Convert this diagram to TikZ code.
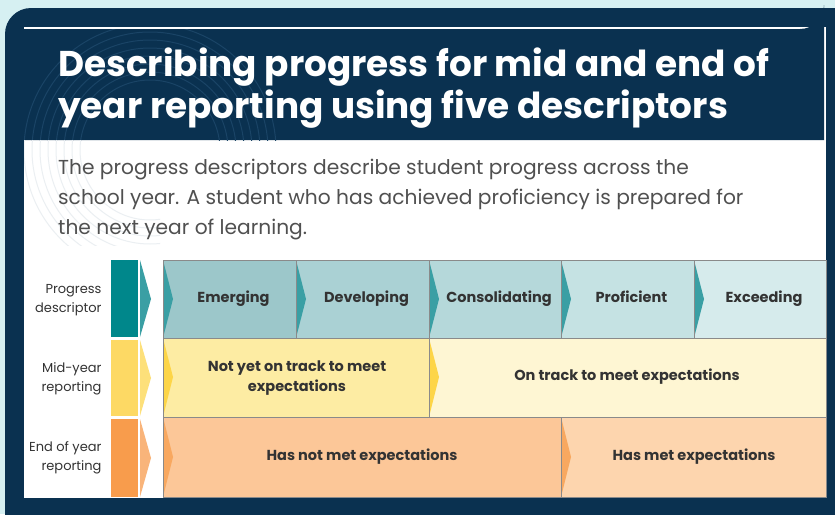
\documentclass[tikz,border=0pt]{standalone}
\usepackage{fontspec}
\setmainfont{Poppins}
\definecolor{bgaqua}{HTML}{D6F0F2}
\definecolor{navy}{HTML}{0A3150}
\definecolor{navyline}{HTML}{1A4466}
\definecolor{swirl}{HTML}{EBEFF2}
\definecolor{bodytext}{HTML}{505050}
\definecolor{cellborder}{HTML}{8A8A8A}
\definecolor{tealbar}{HTML}{00878B}
\definecolor{tealchev}{HTML}{3A9FA4}
\definecolor{cEmerging}{HTML}{9CC7CA}
\definecolor{cDeveloping}{HTML}{AAD1D4}
\definecolor{cConsolidating}{HTML}{B5D8DA}
\definecolor{cProficient}{HTML}{C5E2E3}
\definecolor{cExceeding}{HTML}{D6EBEC}
\definecolor{yelbar}{HTML}{FDD964}
\definecolor{yelchevL}{HTML}{FDE07A}
\definecolor{yelchev}{HTML}{FDD548}
\definecolor{yelA}{HTML}{FDECA3}
\definecolor{yelB}{HTML}{FEF6D3}
\definecolor{orabar}{HTML}{F89C4C}
\definecolor{orachevL}{HTML}{F9B47A}
\definecolor{orachev}{HTML}{F8A860}
\definecolor{oraA}{HTML}{FCC798}
\definecolor{oraB}{HTML}{FDD5AE}
\definecolor{celltext}{HTML}{333333}
\begin{document}
\begin{tikzpicture}[x=1pt,y=-1pt,
  celltxt/.style={font=\fontsize{14.5}{19}\selectfont\bfseries, text=celltext, align=center, text height=10.5pt, text depth=3pt},
  celltxttwo/.style={font=\fontsize{14.5}{20}\selectfont\bfseries, text=celltext, align=center},
  rowlabel/.style={font=\fontsize{13}{19}\selectfont, text=celltext, align=right, anchor=east},
  titletxt/.style={anchor=base west, text=white, font=\fontsize{35.8}{40}\selectfont\bfseries, inner sep=0pt},
  bodytxt/.style={anchor=base west, text=bodytext, font=\fontsize{20.2}{24}\selectfont, inner sep=0pt},
  cellbox/.style={draw=cellborder, line width=0.8pt}]
\useasboundingbox (0,0) rectangle (835,514);
% outer background
\fill[bgaqua] (0,0) rectangle (835,514);
\fill[navy, rounded corners=26pt] (5,8) rectangle (860,540);
% white panel
\fill[white] (24,27) rectangle (826,498);
% title band
\fill[navy] (24,29) -- (800,29) arc[start angle=90, end angle=0, radius=24] -- (824,140) -- (24,140) -- cycle;
% decorative swirls
\begin{scope}
\clip (24,29) rectangle (300,140);
\foreach \r in {70,78,86,94,102,110,118,126} {
  \draw[navyline, line width=1pt] (150,150) circle[radius=\r];
}
\end{scope}
\begin{scope}
\clip (24,140) rectangle (160,245);
\foreach \r in {70,78,86,94,102,110,118,126} {
  \draw[swirl, line width=1pt] (150,150) circle[radius=\r];
}
\end{scope}
% title
\node[titletxt] (t1) at (58,76) {Describing progress for mid and end of};
\node[titletxt] (t2) at (58,118) {year reporting using five descriptors};
% body text
\node[bodytxt] (b1) at (58,174) {The progress descriptors describe student progress across the};
\node[bodytxt] (b2) at (58,204) {school year. A student who has achieved proficiency is prepared for};
\node[bodytxt] (b3) at (58,234) {the next year of learning.};
% left bars
\fill[tealbar] (111,260) rectangle (138,337);
\fill[yelbar] (111,340) rectangle (138,416);
\fill[orabar] (111,419) rectangle (138,497);
\fill[tealchev] (140,260) -- (151,299) -- (140,337) -- cycle;
\fill[yelchevL] (140,340) -- (151,378) -- (140,416) -- cycle;
\fill[orachevL] (140,419) -- (151,458) -- (140,497) -- cycle;
% row labels
\node[rowlabel] (l1) at (105,300) {Progress\\descriptor};
\node[rowlabel] (l2) at (105,379) {Mid-year\\reporting};
\node[rowlabel] (l3) at (105,458) {End of year\\reporting};
% row 1
\foreach \xa/\xb/\c/\t [count=\i] in {163/296/cEmerging/Emerging, 296/429/cDeveloping/Developing, 429/561/cConsolidating/Consolidating, 561/694/cProficient/Proficient, 694/826/cExceeding/Exceeding} {
  \fill[\c] (\xa,260) rectangle (\xb,338);
  \fill[tealchev] (\xa,260) -- (\xa+10,299) -- (\xa,338) -- cycle;
  \draw[cellbox] (\xa,260) rectangle (\xb,338);
  \node[celltxt] (d\i) at ({(\xa+\xb)/2+4},299) {\t};
}
% row 2
\fill[yelA] (163,338) rectangle (429,417);
\fill[yelB] (429,338) rectangle (826,417);
\fill[yelchev] (163,338) -- (173,377) -- (163,417) -- cycle;
\fill[yelchev] (429,338) -- (439,377) -- (429,417) -- cycle;
\draw[cellbox] (163,338) rectangle (429,417);
\draw[cellbox] (429,338) rectangle (826,417);
\node[celltxttwo] (m1) at (297,378) {Not yet on track to meet\\expectations};
\node[celltxt] (m2) at (627,377) {On track to meet expectations};
% row 3
\fill[oraA] (163,417) rectangle (561,497);
\fill[oraB] (561,417) rectangle (826,497);
\fill[orachev] (163,417) -- (173,457) -- (163,497) -- cycle;
\fill[orachev] (561,417) -- (571,457) -- (561,497) -- cycle;
\draw[cellbox] (163,417) rectangle (561,497);
\draw[cellbox] (561,417) rectangle (826,497);
\node[celltxt] (e1) at (362,457) {Has not met expectations};
\node[celltxt] (e2) at (694,457) {Has met expectations};
\end{tikzpicture}
\end{document}
